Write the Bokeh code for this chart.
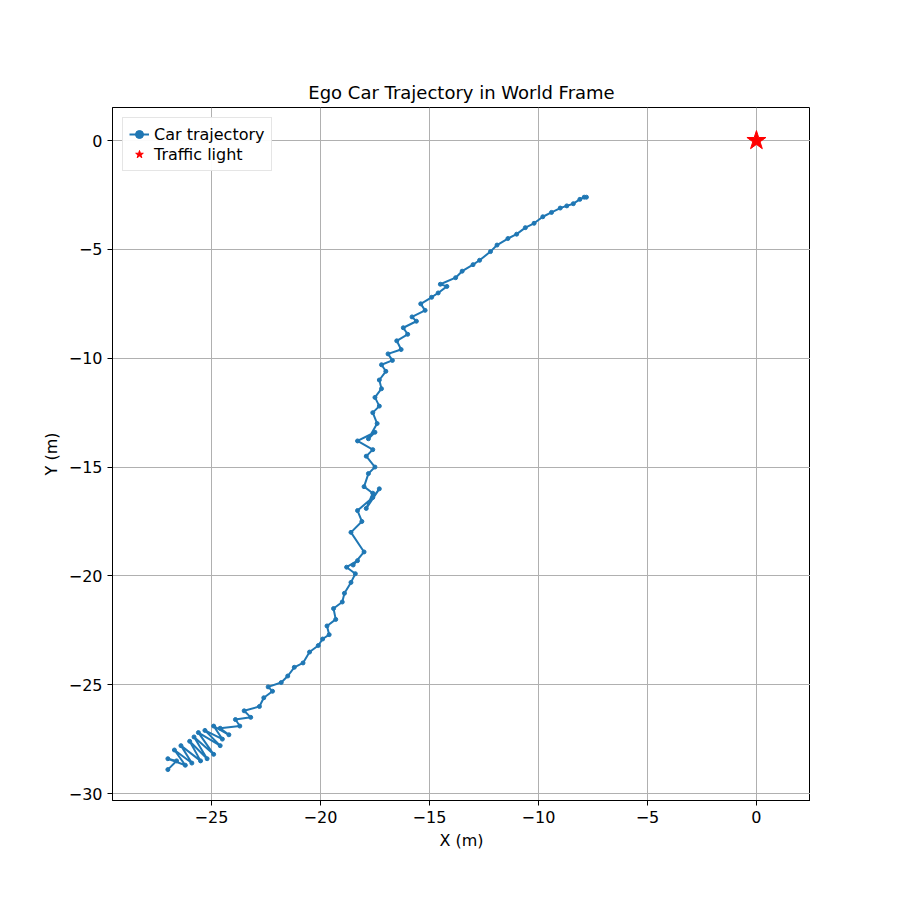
from bokeh.plotting import figure
from bokeh.models import SingleIntervalTicker, Legend, LegendItem
from bokeh.embed import file_html
from bokeh.resources import INLINE

# trajectory (metres, world frame)
traj_x = [-27.0, -26.6, -27.0, -26.2, -26.7, -25.9, -26.4, -25.5, -26.0, -25.2, -25.8, -24.9,
          -25.6, -24.6, -25.3, -24.5, -24.9, -24.2, -24.6, -23.7, -23.9, -23.2, -23.5, -22.8,
          -22.6, -22.2, -22.4, -21.8, -21.5, -21.2, -20.8, -20.5, -20.1, -19.9, -19.6, -19.7,
          -19.3, -19.4, -19.0, -18.9, -18.6, -18.4, -18.8, -18.3, -18.5, -18.0, -18.6, -18.1,
          -18.3, -17.6, -17.3, -17.9, -17.6, -18.0, -17.8, -17.5, -17.9, -17.6, -18.3, -17.5,
          -17.8, -17.4, -17.6, -17.3, -17.5, -17.2, -17.3, -17.0, -17.2, -16.7, -16.9, -16.3,
          -16.5, -16.0, -16.2, -15.6, -15.8, -15.2, -15.4, -14.9, -14.6, -14.2, -14.5, -13.8,
          -13.5, -13.0, -12.7, -12.2, -11.9, -11.4, -11.0, -10.6, -10.2, -9.8, -9.4, -9.0,
          -8.7, -8.4, -8.1, -7.9, -7.8]
traj_y = [-28.9, -28.5, -28.4, -28.7, -28.0, -28.6, -27.8, -28.5, -27.6, -28.4, -27.4, -28.2,
          -27.2, -27.8, -27.1, -27.5, -26.9, -27.3, -27.0, -26.9, -26.6, -26.5, -26.2, -26.0,
          -25.6, -25.3, -25.1, -24.9, -24.6, -24.2, -24.0, -23.5, -23.2, -22.9, -22.7, -22.3,
          -22.0, -21.5, -21.2, -20.8, -20.3, -19.9, -19.6, -19.3, -19.5, -18.9, -18.0, -17.5,
          -17.0, -16.4, -16.0, -16.9, -16.2, -15.9, -15.3, -15.0, -14.5, -14.2, -13.8, -13.4,
          -13.7, -13.0, -12.5, -12.2, -11.8, -11.4, -11.0, -10.6, -10.3, -10.1, -9.8, -9.6,
          -9.2, -8.9, -8.6, -8.3, -8.1, -7.8, -7.5, -7.2, -7.0, -6.7, -6.6, -6.3,
          -6.0, -5.7, -5.5, -5.1, -4.8, -4.5, -4.3, -4.0, -3.8, -3.5, -3.3, -3.1,
          -3.0, -2.9, -2.7, -2.6, -2.6]
light_x = [0.0]
light_y = [0.0]

p = figure(width=884, height=884, frame_width=698, frame_height=693,
           x_range=(-29.54, 2.48), y_range=(-30.32, 1.52),
           title="Ego Car Trajectory in World Frame",
           output_backend="svg", toolbar_location=None,
           min_border_left=112, min_border_top=107, min_border_right=0, min_border_bottom=0)
p.title.align = "center"
p.title.text_font = "DejaVu Sans"
p.title.text_font_size = "18px"
p.title.text_font_style = "normal"
p.title.text_color = "black"
p.outline_line_color = "black"
p.outline_line_width = 1
p.background_fill_color = "white"

p.xaxis.ticker = SingleIntervalTicker(interval=5)
p.yaxis.ticker = SingleIntervalTicker(interval=5)
p.xaxis.axis_label = "X (m)"
p.yaxis.axis_label = "Y (m)"
for ax in (p.xaxis, p.yaxis):
    ax.axis_label_text_font = "DejaVu Sans"
    ax.axis_label_text_font_style = "normal"
    ax.axis_label_text_font_size = "16px"
    ax.axis_label_text_color = "black"
    ax.major_label_text_font = "DejaVu Sans"
    ax.major_label_text_font_size = "16px"
    ax.major_label_text_color = "black"
    ax.minor_tick_line_color = None
    ax.major_tick_in = 0
    ax.major_tick_out = 5
    ax.axis_line_color = "black"
p.grid.grid_line_color = "#b0b0b0"
p.grid.grid_line_width = 1

ln = p.line(traj_x, traj_y, line_color="#1f77b4", line_width=2)
pts = p.scatter(traj_x, traj_y, size=4, color="#1f77b4")
star = p.scatter(light_x, light_y, marker="star", size=20, color="red")

legend = Legend(items=[LegendItem(label="Car trajectory", renderers=[ln, pts]),
                       LegendItem(label="Traffic light", renderers=[star])],
                location="top_left", label_text_font="DejaVu Sans",
                label_text_font_size="16px", label_text_color="black",
                border_line_color="#cccccc", spacing=0, padding=6, margin=10)
p.add_layout(legend)

open("out.html", "w").write(file_html(p, INLINE))
